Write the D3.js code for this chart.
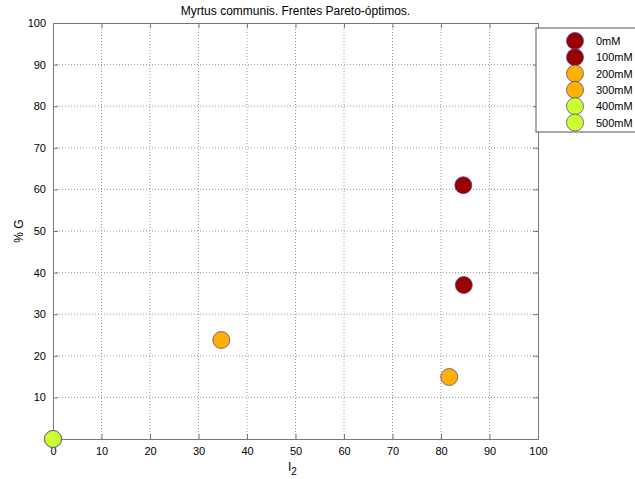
<!DOCTYPE html>
<html><head><meta charset="utf-8">
<script src="https://cdn.jsdelivr.net/npm/d3@7"></script>
<style>body{margin:0;background:#fff;}svg{display:block;font-family:"Liberation Sans",Arial,sans-serif;}</style>
</head><body>
<svg id="c" width="635" height="479"></svg>
<script>
const seriesNames = ["0mM","100mM","200mM","300mM","400mM","500mM"];
const seriesColors = ["#990000","#990000","#FFB000","#FFB000","#CCFF33","#CCFF33"];
const seriesX = [[84.6],[84.7],[34.7],[81.7],[0],[0]];
const seriesY = [[61],[37],[23.8],[14.9],[0],[0]];
const xTicks = [0,10,20,30,40,50,60,70,80,90,100];
const yTicks = [10,20,30,40,50,60,70,80,90,100];

const svg = d3.select("#c");
const L=53,R=538,T=23,B=439;
const x = d3.scaleLinear().domain([0,100]).range([L,R]);
const y = d3.scaleLinear().domain([0,100]).range([B,T]);

// grid
svg.append("g").selectAll("line").data(xTicks.filter(d=>d>0&&d<100)).join("line")
  .attr("x1",d=>x(d)).attr("x2",d=>x(d)).attr("y1",T).attr("y2",B)
  .attr("stroke","#999").attr("stroke-dasharray","1,2");
svg.append("g").selectAll("line").data(yTicks.filter(d=>d<100)).join("line")
  .attr("y1",d=>y(d)).attr("y2",d=>y(d)).attr("x1",L).attr("x2",R)
  .attr("stroke","#999").attr("stroke-dasharray","1,2");

// axes
const xa = svg.append("g").attr("transform",`translate(0,${B})`)
  .call(d3.axisBottom(x).tickValues(xTicks).tickSize(-5).tickPadding(8).tickFormat(d3.format("d")));
const ya = svg.append("g").attr("transform",`translate(${L},0)`)
  .call(d3.axisLeft(y).tickValues(yTicks).tickSize(-5).tickPadding(7).tickFormat(d3.format("d")));
const xt = svg.append("g").attr("transform",`translate(0,${T})`)
  .call(d3.axisTop(x).tickValues(xTicks).tickSize(-5).tickFormat(""));
const yr = svg.append("g").attr("transform",`translate(${R},0)`)
  .call(d3.axisRight(y).tickValues(yTicks).tickSize(-5).tickFormat(""));
[xa,ya,xt,yr].forEach(g=>{
  g.selectAll("path").attr("stroke","#777");
  g.selectAll("line").attr("stroke","#777");
  g.selectAll("text").attr("font-size",11).attr("fill","#000").attr("font-family","Liberation Sans, Arial, sans-serif");
});

// points
const pts=[];
seriesNames.forEach((n,i)=>seriesX[i].forEach((v,j)=>pts.push({x:v,y:seriesY[i][j],c:seriesColors[i]})));
svg.append("g").selectAll("circle").data(pts).join("circle")
  .attr("cx",d=>x(d.x)).attr("cy",d=>y(d.y)).attr("r",8.5)
  .attr("fill",d=>d.c).attr("stroke","#5a4a8a").attr("stroke-width",0.8);

// title & labels
svg.append("text").attr("x",295.5).attr("y",15).attr("text-anchor","middle").attr("font-size",12).text("Myrtus communis. Frentes Pareto-óptimos.");
svg.append("text").attr("transform","translate(23,231) rotate(-90)").attr("text-anchor","middle").attr("font-size",12).text("% G");
const xl = svg.append("text").attr("x",288).attr("y",471).attr("font-size",12);
xl.append("tspan").text("I");
xl.append("tspan").attr("dy",4).attr("font-size",10).text("2");

// legend
const lg = svg.append("g");
lg.append("rect").attr("x",536).attr("y",28).attr("width",110).attr("height",104).attr("fill","#fff").attr("stroke","#555");
seriesNames.forEach((n,i)=>{
  const yy = 41 + i*16.3;
  lg.append("circle").attr("cx",575).attr("cy",yy).attr("r",8.5).attr("fill",seriesColors[i]).attr("stroke","#5a4a8a").attr("stroke-width",0.8);
  lg.append("text").attr("x",596).attr("y",yy+4).attr("font-size",11).text(n);
});
</script>
</body></html>
